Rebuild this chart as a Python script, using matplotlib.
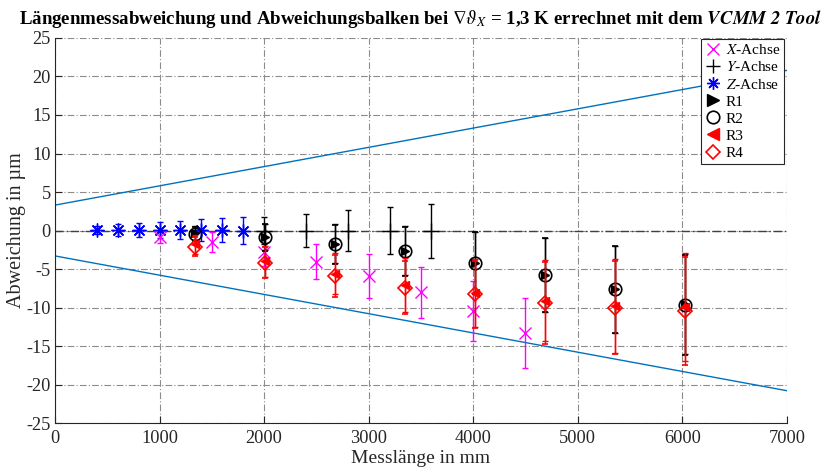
import matplotlib
matplotlib.use("Agg")
import matplotlib.pyplot as plt
from matplotlib.lines import Line2D

# ---------------- data ----------------
z_x = [400, 600, 800, 1000, 1200, 1400, 1600, 1800]
z_y = [0.1, 0.1, 0.1, 0.05, 0.05, 0.1, 0.05, 0.0]
z_err = [0.5, 0.8, 0.9, 1.0, 1.2, 1.4, 1.6, 1.8]

x_x = [1000, 1500, 2000, 2500, 3000, 3500, 4000, 4500]
x_y = [-0.8, -1.45, -2.75, -4.05, -5.9, -8.0, -10.5, -13.3]
x_err = [0.8, 1.3, 1.8, 2.3, 2.8, 3.3, 3.9, 4.5]

y_x = [2000, 2400, 2800, 3200, 3600]
y_y = [0.0, 0.0, 0.0, 0.0, -0.1]
y_err = [1.8, 2.2, 2.65, 3.1, 3.5]

r_x = [1340, 2010, 2680, 3350, 4020, 4690, 5360, 6030]
r1_y = [-0.3, -0.8, -1.7, -2.6, -4.2, -5.8, -7.6, -9.5]
r2_y = [-0.4, -0.9, -1.8, -2.7, -4.2, -5.8, -7.6, -9.7]
r12_err = [0.9, 1.7, 2.5, 3.2, 4.05, 4.8, 5.65, 6.5]
r3_y = [-1.8, -4.0, -5.6, -7.1, -8.1, -9.1, -9.8, -9.9]
r4_y = [-2.1, -4.2, -5.9, -7.4, -8.3, -9.4, -10.0, -10.4]
r34_err = [1.2, 2.0, 2.7, 3.5, 4.4, 5.3, 6.1, 7.0]

mpe_L = [0, 7000]
mpe_upper = [3.3, 20.8]
mpe_lower = [-3.3, -20.8]

xticks = [0, 1000, 2000, 3000, 4000, 5000, 6000, 7000]
yticks = [-25, -20, -15, -10, -5, 0, 5, 10, 15, 20, 25]
labels = ['$X$-Achse', '$Y$-Achse', '$Z$-Achse', 'R1', 'R2', 'R3', 'R4']

# ---------------- style ----------------
plt.rcParams['font.family'] = ['Liberation Serif', 'DejaVu Serif']
plt.rcParams['mathtext.fontset'] = 'stix'
plt.rcParams['axes.unicode_minus'] = False

fig = plt.figure(figsize=(8.26, 4.69), dpi=100)
ax = fig.add_axes([0.0666, 0.098, 0.886, 0.821])

blue = '#0072BD'
ax.plot(mpe_L, mpe_upper, color=blue, lw=1.0, zorder=2)
ax.plot(mpe_L, mpe_lower, color=blue, lw=1.0, zorder=2)

ax.axhline(0, color='#404040', lw=1.0, ls=(0, (6, 2, 1, 2)), zorder=1.5)

ekw = dict(elinewidth=1.0, capsize=2.5, capthick=1.0)
asterisk = (8, 2, 0)

ax.errorbar(x_x, x_y, yerr=x_err, fmt='x', color='magenta', ms=8, mew=1.0, zorder=3, **ekw)
ax.errorbar(y_x, y_y, yerr=y_err, fmt='+', color='black', ms=11, mew=1.0, zorder=3, **ekw)
ax.errorbar(z_x, z_y, yerr=z_err, fmt='none', color='blue', zorder=3, **ekw)
ax.plot(z_x, z_y, ls='none', marker=asterisk, color='blue', ms=10, mew=1.0, zorder=3)

ax.errorbar(r_x, r1_y, yerr=r12_err, fmt='>', color='black', ms=6, zorder=4, **ekw)
ax.errorbar(r_x, r2_y, yerr=r12_err, fmt='o', color='black', mfc='none', ms=9,
            mew=1.2, zorder=4, **ekw)
ax.errorbar(r_x, r3_y, yerr=r34_err, fmt='<', color='red', ms=6, zorder=5, **ekw)
ax.errorbar(r_x, r4_y, yerr=r34_err, fmt='D', color='red', mfc='none', ms=7.5,
            mew=1.2, zorder=5, **ekw)

ax.set_xlim(0, 7000)
ax.set_ylim(-25, 25)
ax.set_xticks(xticks)
ax.set_yticks(yticks)
ax.set_xticklabels([str(v) for v in xticks])
ax.set_yticklabels([str(v) for v in yticks])
ax.tick_params(direction='in', length=5, width=0.8, labelsize=13.2, colors='#262626')
ax.tick_params(axis='x', pad=5)
ax.tick_params(axis='y', pad=3)

ax.grid(True, color='#8c8c8c', lw=0.8, ls=(0, (6, 2, 1, 2)))
ax.set_axisbelow(True)
for s in ['top', 'right']:
    ax.spines[s].set_visible(False)
for s in ['left', 'bottom']:
    ax.spines[s].set_color('#262626')
    ax.spines[s].set_linewidth(0.8)

ax.set_xlabel('Messlänge in mm', fontsize=14, labelpad=2, color='#262626')
ax.set_ylabel('Abweichung in µm', fontsize=14.5, labelpad=0, color='#262626')

ax.set_title(r'Längenmessabweichung und Abweichungsbalken bei $\nabla\vartheta_X$ = 1,3 K errechnet mit dem $\mathbfit{VCMM\ 2\ Tool}$',
             fontsize=13.6, fontweight='bold', pad=10)

proxies = [
    Line2D([], [], ls='none', marker='x', color='magenta', ms=8, mew=1.0),
    Line2D([], [], ls='none', marker='+', color='black', ms=10, mew=1.0),
    Line2D([], [], ls='none', marker=asterisk, color='blue', ms=9, mew=1.0),
    Line2D([], [], ls='none', marker='>', color='black', ms=8),
    Line2D([], [], ls='none', marker='o', color='black', mfc='none', ms=9, mew=1.2),
    Line2D([], [], ls='none', marker='<', color='red', ms=8),
    Line2D([], [], ls='none', marker='D', color='red', mfc='none', ms=7.5, mew=1.2),
]
leg = ax.legend(proxies, labels, loc='upper right', bbox_to_anchor=(1.0, 1.005),
                fontsize=11, frameon=True, fancybox=False, framealpha=1,
                edgecolor='#262626', handlelength=1.0, handletextpad=0.35,
                borderpad=0.25, labelspacing=0.22, borderaxespad=0.2)
leg.get_frame().set_linewidth(0.8)

fig.savefig('out.png', dpi=100)
